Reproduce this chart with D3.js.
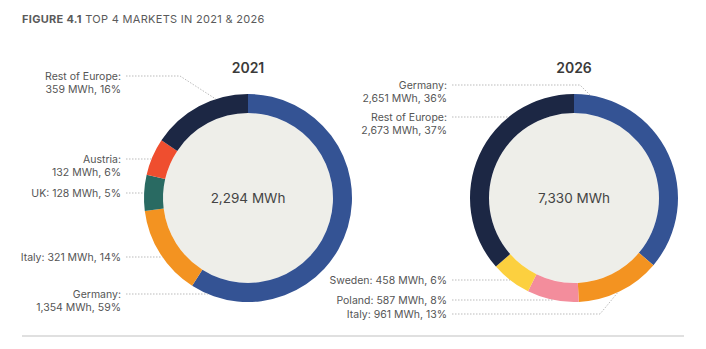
<!DOCTYPE html>
<html>
<head>
<meta charset="utf-8">
<script src="https://cdn.jsdelivr.net/npm/d3@7"></script>
<style>
  body { margin: 0; background: #fff; }
  text { font-family: Inter, "DejaVu Sans", sans-serif; }
</style>
</head>
<body>
<svg width="706" height="349"></svg>
<script>
// data
const years = ['2021', '2026'];
const totals = [2294, 7330];
const markets2021 = ['Germany', 'Italy', 'UK', 'Austria', 'Rest of Europe'];
const values2021 = [1354, 321, 128, 132, 359];
const shares2021 = [59, 14, 5, 6, 16];
const markets2026 = ['Germany', 'Italy', 'Poland', 'Sweden', 'Rest of Europe'];
const values2026 = [2651, 961, 587, 458, 2673];
const shares2026 = [36, 13, 8, 6, 37];

const colors = {
  'Germany': '#345394',
  'Italy': '#f39321',
  'UK': '#296a62',
  'Austria': '#ef4e2f',
  'Rest of Europe': '#1c2744',
  'Poland': '#f38d9c',
  'Sweden': '#fcd03f'
};

// label layout (y of first line, two-line or not, optional elbow)
const labelLayout = [
  {
    'Rest of Europe': { y: 76, wrap: true, elbowX: 180, deg: 342 },
    'Austria': { y: 159, wrap: true },
    'UK': { y: 193, wrap: false },
    'Italy': { y: 257, wrap: false },
    'Germany': { y: 294, wrap: true }
  },
  {
    'Germany': { y: 85, wrap: true, elbowX: 580, deg: 9 },
    'Rest of Europe': { y: 117, wrap: true },
    'Sweden': { y: 280, wrap: false },
    'Poland': { y: 300, wrap: false },
    'Italy': { y: 314, wrap: false, elbowX: 600, deg: 155 }
  }
];

const charts = [
  { markets: markets2021, values: values2021, shares: shares2021, cx: 248, labelX: 121 },
  { markets: markets2026, values: values2026, shares: shares2026, cx: 574, labelX: 447 }
];

const cy = 198;
const outerR = 104;
const innerR = 85;
const fmt = d3.format(',');

const svg = d3.select('svg');

// title
const title = svg.append('text')
  .attr('x', 22).attr('y', 23)
  .attr('font-size', 11)
  .attr('fill', '#5a5a5a')
  .attr('letter-spacing', 0.3);
title.append('tspan').attr('font-weight', 700).text('FIGURE 4.1');
title.append('tspan').text(' TOP 4 MARKETS IN 2021 & 2026');

const pie = d3.pie().sort(null).value(d => d.value);
const arc = d3.arc().innerRadius(innerR).outerRadius(outerR);

charts.forEach((c, i) => {
  const data = c.markets.map((m, j) => ({ market: m, value: c.values[j], share: c.shares[j] }));
  const g = svg.append('g');
  const donut = g.append('g').attr('transform', `translate(${c.cx}, ${cy})`);

  donut.append('circle').attr('r', innerR).attr('fill', '#eeeee9');

  donut.selectAll('path').data(pie(data))
    .enter().append('path')
    .attr('d', arc)
    .attr('fill', d => colors[d.data.market]);

  donut.append('text')
    .attr('text-anchor', 'middle')
    .attr('dy', '0.35em')
    .attr('font-size', 13.5)
    .attr('fill', '#444')
    .text(`${fmt(totals[i])} MWh`);

  g.append('text')
    .attr('x', c.cx).attr('y', 68)
    .attr('text-anchor', 'middle')
    .attr('dy', '0.35em')
    .attr('font-size', 14)
    .attr('font-weight', 600)
    .attr('fill', '#3a3a3a')
    .text(years[i]);

  // labels + leader lines
  data.forEach(d => {
    const L = labelLayout[i][d.market];
    const tail = `${fmt(d.value)} MWh, ${d.share}%`;
    const t = g.append('text')
      .attr('x', c.labelX)
      .attr('y', L.y)
      .attr('text-anchor', 'end')
      .attr('font-size', 10.5)
      .attr('fill', '#555');
    if (L.wrap) {
      t.append('tspan').attr('x', c.labelX).attr('dy', '0.35em').text(`${d.market}:`);
      t.append('tspan').attr('x', c.labelX).attr('dy', '1.25em').text(tail);
    } else {
      t.append('tspan').attr('x', c.labelX).attr('dy', '0.35em').text(`${d.market}: ${tail}`);
    }

    let pts;
    const x0 = c.labelX + 5;
    if (L.deg !== undefined) {
      const a = L.deg * Math.PI / 180;
      const ax = c.cx + outerR * Math.sin(a);
      const ay = cy - outerR * Math.cos(a);
      pts = [[x0, L.y], [L.elbowX, L.y], [ax, ay]];
    } else {
      const dy = L.y - cy;
      const ax = c.cx - Math.sqrt(Math.max(0, outerR * outerR - dy * dy));
      pts = [[x0, L.y], [ax, L.y]];
    }
    g.append('path')
      .attr('d', d3.line()(pts))
      .attr('fill', 'none')
      .attr('stroke', '#aaa')
      .attr('stroke-width', 0.8)
      .attr('stroke-dasharray', '1.5,1.5');
  });
});

// bottom rule
svg.append('line')
  .attr('x1', 22).attr('x2', 684)
  .attr('y1', 336).attr('y2', 336)
  .attr('stroke', '#e0e0e0')
  .attr('stroke-width', 2);
</script>
</body>
</html>
